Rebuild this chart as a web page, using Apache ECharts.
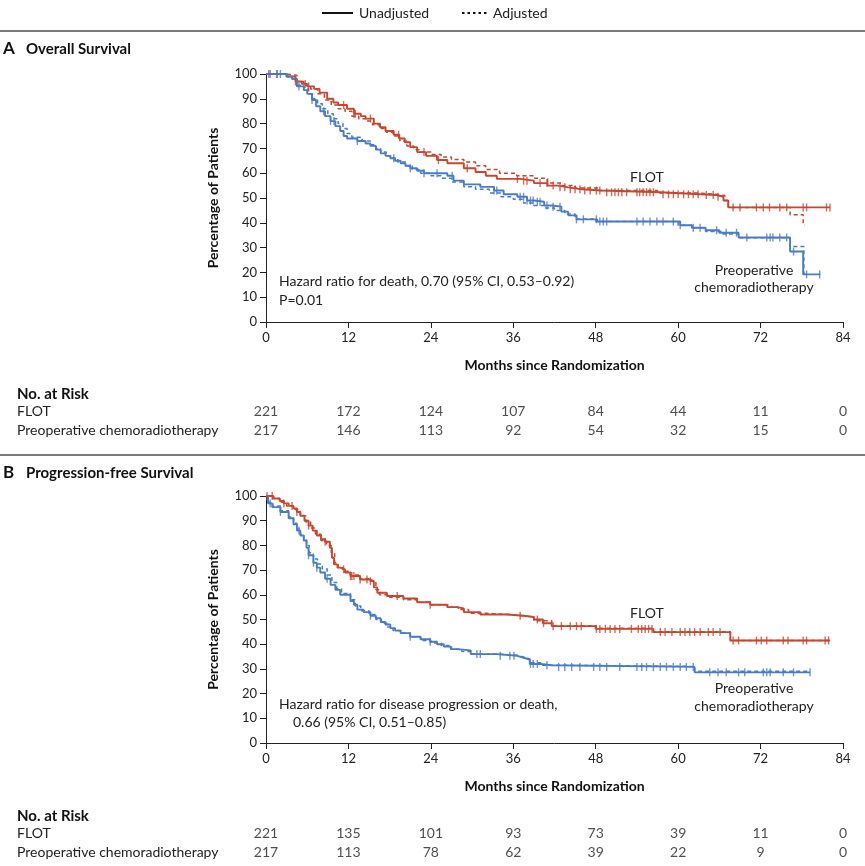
<!DOCTYPE html>
<html>
<head>
<meta charset="utf-8">
<script src="https://cdn.jsdelivr.net/npm/echarts@6.0.0/dist/echarts.min.js"></script>
<style>
html, body { margin: 0; padding: 0; background: #fff; }
#container { width: 865px; height: 866px; }
</style>
</head>
<body>
<div id="container"></div>
<script>
// ---- data: [month, percent] steps of each curve ----
let osFlot = [[0,100],[3,99],[4.3,97],[5.2,96],[6,95],[7,94],[7.8,92.5],[8.9,90],[9.8,88.5],[10.5,87.5],
  [11.8,86],[12.8,84],[13.8,83],[14.5,82],[15.7,80],[16.6,78.5],[17.4,77],[18.6,75.5],[19.4,74],[20.2,72.5],
  [21,70.5],[22,68.5],[23.3,67],[24.9,65.3],[26.4,64],[28.8,62],[30.5,60.5],[32,59],[33.6,57.7],[37,57],
  [39,56],[41,55],[42.5,54.3],[44,53.5],[46,53],[48.8,52.3],[57.4,51.5],[63.2,51.2],[65.6,50.5],[66.6,49],
  [67.3,46.2],[82.1,46.2]];
let osFlotAdj = [[0,100],[3,99.5],[4.5,97],[5.5,95.5],[6.5,94],[7.5,92],[8.5,89.5],[9.5,87.5],[10.5,86],[11.5,85],
  [12.5,83],[13.5,82],[14.5,81],[15.5,79.5],[16.5,78],[17.5,76.5],[18.5,75],[19.5,73],[20.5,71],[21.5,69.5],
  [22.5,68.5],[24,67.5],[25.5,66.5],[27,65.5],[28.8,64.5],[30.5,63],[32,61.5],[34,60],[36.5,59],[39,58],
  [41,56],[43,55],[45,54],[48.5,53],[57,52],[63,51.5],[65.5,51],[66.8,49],[67.3,46.2],[76.3,43.2],
  [78.2,39],[78.4,39]];
let osPreop = [[0,100],[3,99],[3.8,98],[4.5,95],[5.5,93.5],[6,92],[6.7,89.5],[7.3,87],[7.9,85],[8.6,83],
  [9.4,81],[10.1,79],[10.8,77],[11.3,75],[11.8,74],[13.3,73],[14.5,72],[15.2,71],[16,69.5],[16.7,68],
  [17.4,67],[18.1,66],[18.8,65],[19.6,64],[20.3,63],[21,62],[22,61],[23,60],[26.4,59],[27.3,57],
  [28.8,55.5],[31.2,54.5],[33.2,53],[34.6,51.5],[36.6,50.5],[38,49],[39,48.5],[40.5,47],[41.6,46.5],[43,44.5],
  [44,43],[45.2,41.4],[48.2,40.5],[60.3,39],[62,38],[64,37],[66,36],[68.8,34.1],[76.3,28.4],[78.2,19.2],
  [80.7,19.2]];
let osPreopAdj = [[0,100],[3,99],[3.8,98],[4.5,95.5],[5.5,94],[6.2,92],[6.8,90],[7.5,88],[8.2,86],[9,84],
  [9.8,82],[10.5,80],[11.2,78],[11.8,76],[12.5,74.5],[14,73],[15.2,71.5],[16,70],[16.7,68.5],[17.5,67],
  [18.3,66],[19.2,64.5],[20.3,63],[21.3,61.5],[22.5,60],[24,59],[25.5,58],[27,56.5],[28.8,54.5],[30.5,53.5],
  [32.5,52],[34.2,50.5],[36,49.5],[37.5,48],[39,47],[40.5,46],[42,45],[43.5,43.5],[45,41.5],[48,40.5],
  [60,39],[62,38],[64,36.5],[66.5,35.5],[68.8,34],[76.3,30.4],[78.3,19.5],[78.5,19.5]];

let pfsFlot = [[0,100],[1.1,99],[2,98],[2.6,97],[3.3,96],[4,95],[4.5,93.5],[5,92],[5.6,90],[6.2,88],
  [6.8,86],[7.4,84],[8,82.5],[8.6,81.5],[9.3,79],[9.6,75],[9.9,72.3],[10.4,71],[10.8,70.3],[11.5,69],
  [12.3,67.6],[13.7,66.2],[15.2,65.5],[15.7,63],[16.2,60.8],[17.6,59.5],[20,58.5],[22,57],[23.9,56],[26.4,55],
  [27.8,54.5],[28.8,53],[31.2,52],[35.1,51.5],[37.5,51],[39,50],[40.3,48.5],[41.6,47.3],[48,46.2],[56.4,44.9],
  [67.6,41.5],[82.1,41.5]];
let pfsFlotAdj = [[0,100],[1,99],[2,97.5],[3,96],[4,94.5],[5,92],[5.8,89.5],[6.5,87],[7.2,84.5],[8,82],
  [8.8,80],[9.5,77],[10,73],[10.5,71],[11.2,69.5],[12.3,68],[13.7,66.5],[15.2,65.5],[16,62],[16.5,60],
  [18,59],[20,58],[22,57],[24,56],[26.5,55],[28,54],[29.5,52.5],[32,52],[35.5,51.5],[37.5,51],
  [39,49.5],[41.6,47.5],[48,46.5],[56.4,45],[67.6,41.5],[82.1,41.5]];
let pfsPreop = [[0,100],[0.3,97],[0.9,95.5],[2.1,93.5],[3.3,91],[4,88.5],[4.5,86],[5,84],[5.5,82],[5.9,79],
  [6.2,76],[6.9,73],[7.4,71],[7.9,69],[8.6,66.5],[9.4,64],[10.1,62],[10.8,60],[12.3,57.5],[12.8,56],
  [13.3,54],[14.2,53],[15.2,51.5],[16,50.5],[16.7,49],[17.4,48],[18.1,46.5],[18.8,45.5],[19.6,44.5],[21,43],
  [22.5,42],[23.9,41],[24.9,40],[25.9,39],[26.9,38],[27.8,37.5],[29.8,36],[33.6,35.3],[36.6,34.5],[37.5,33.8],
  [38.4,32],[40,31.5],[41.6,30.8],[62.4,28.6],[79.2,28.6]];
let pfsPreopAdj = [[0,100],[0.3,97.5],[1,96],[2.1,94],[3.3,91.5],[4,89],[4.5,86.5],[5,84.5],[5.5,82.5],[5.9,80],
  [6.3,77],[6.9,74.5],[7.5,72.5],[8.2,70.5],[8.9,68],[9.6,65],[10.3,62.5],[11,60.5],[12.3,58],[13,55.5],
  [13.8,53.5],[15,52],[16,50],[16.8,48.5],[17.6,47],[18.5,45.5],[19.6,44.5],[21,43],[22.5,41.5],[24,40.5],
  [25.5,39.5],[27,38],[28.5,37],[30,36],[33.6,35.5],[36.6,34.8],[37.5,34],[38.4,32.5],[40,31.5],[41.6,31],
  [62.4,29],[79.2,29]];

// censoring times (months)
let osFlotCens = [0.6,1.6,4.3,5.7,6.2,11.3,12.8,13,15.2,19.3,23,25.1,29.3,36.6,37.5,38,39.9,40.9,41.8,42.8,
  43.5,44.3,45,45.7,46.4,47.2,48.1,48.6,49.6,50.3,50.8,51.3,51.8,52.5,54,54.4,54.9,55.4,55.9,56.4,57.8,58.6,
  59.3,60,60.8,61.5,62.2,62.9,64.1,65.1,65.8,68,69,71.4,72.4,73.3,74.8,75.8,78.2,78.7,81.6,82.1];
let osPreopCens = [0.4,1.6,2.1,4.8,6.7,8.4,9.4,9.9,13.3,18.6,21,23,24.9,27.1,33.2,33.6,37,37.5,38,38.5,38.9,
  39.5,39.9,40.9,41.8,42.8,45.2,46.2,48.1,48.6,49.1,49.6,54,54.9,55.9,56.9,57.8,59.3,60.3,62.2,63.2,65.6,67,
  68.5,70,72.9,73.4,73.8,74.8,75.8,76.8,78.7,80.6];
let pfsFlotCens = [0.15,0.9,2.6,3.8,4.5,6.2,8.6,11.3,12.3,12.5,12.8,13.7,14.7,15.2,19.1,23.9,37,39.5,40.4,41.8,
  43,44.3,45.2,45.9,48.1,48.6,49.4,50.1,50.8,51.5,53.2,54.2,54.7,55.2,55.7,56.2,57.4,58.1,59.1,60.3,61,61.7,
  62.4,63.2,64.4,65.1,66.1,68,68.8,71.4,72.1,72.9,75.3,76,78.2,78.7,81.4,81.9];
let pfsPreopCens = [0.6,2.1,4.8,6.2,6.9,7.4,8.9,15.2,21,23.9,30.7,31.2,34.1,35.5,36.1,38.5,38.9,39.5,40.9,42.6,
  43.5,44.5,45.7,47.7,48.6,49.6,51.5,54,54.7,55.4,56.4,57.4,58.3,59.3,60.3,61.2,62.2,64.6,65.8,67,68.8,69.7,
  72.4,72.9,73.4,75.3,76.8,79.2];

// number at risk
let riskMonths = [0, 12, 24, 36, 48, 60, 72, 84];
let osRiskFlot = [221, 172, 124, 107, 84, 44, 11, 0];
let osRiskPreop = [217, 146, 113, 92, 54, 32, 15, 0];
let pfsRiskFlot = [221, 135, 101, 93, 73, 39, 11, 0];
let pfsRiskPreop = [217, 113, 78, 62, 39, 22, 9, 0];
let groups = ['FLOT', 'Preoperative chemoradiotherapy'];

const RED = '#c8462f';
const BLUE = '#4a7cc6';
const FONT = 'Lato';

function stepAt(curve, t) {
    let v = curve[0][1];
    for (let i = 0; i < curve.length; i++) {
        if (curve[i][0] <= t) v = curve[i][1];
    }
    return v;
}

function kmLine(data, color, dashed, idx) {
    return {
        type: 'line', step: 'end', data: data, xAxisIndex: idx, yAxisIndex: idx,
        showSymbol: false, symbol: 'none', silent: true, z: dashed ? 3 : 4,
        lineStyle: { color: color, width: dashed ? 1.5 : 1.9, type: dashed ? [4, 3] : 'solid' }
    };
}

function censMarks(times, curve, color, idx) {
    return {
        type: 'scatter', xAxisIndex: idx, yAxisIndex: idx, silent: true, z: 5,
        symbol: 'rect', symbolSize: [1.4, 8],
        itemStyle: { color: color },
        data: times.map(t => [t, stepAt(curve, t)])
    };
}

function riskSeries(values, group, idx) {
    return {
        type: 'scatter', xAxisIndex: idx, yAxisIndex: idx, silent: true,
        symbolSize: 1, itemStyle: { color: 'rgba(0,0,0,0)' },
        label: { show: true, position: 'inside', color: '#222', fontFamily: FONT, fontSize: 14,
            formatter: p => String(p.value[2]) },
        data: riskMonths.map((m, i) => [m, group, values[i]])
    };
}

function plotX(idx) {
    return {
        gridIndex: idx, type: 'value', min: 0, max: 84, interval: 12,
        name: 'Months since Randomization', nameLocation: 'middle', nameGap: 36,
        nameTextStyle: { fontFamily: FONT, fontWeight: 'bold', fontSize: 14, color: '#111' },
        axisLine: { lineStyle: { color: '#222', width: 1 } },
        axisTick: { length: 6, lineStyle: { color: '#222' } },
        axisLabel: { margin: 9, fontFamily: FONT, fontSize: 13, color: '#222' },
        splitLine: { show: false }
    };
}

function plotY(idx) {
    return {
        gridIndex: idx, type: 'value', min: 0, max: 100, interval: 10,
        name: 'Percentage of Patients', nameLocation: 'middle', nameGap: 46,
        nameTextStyle: { fontFamily: FONT, fontWeight: 'bold', fontSize: 14, color: '#111' },
        axisLine: { show: true, lineStyle: { color: '#222', width: 1 } },
        axisTick: { show: true, length: 6, lineStyle: { color: '#222' } },
        axisLabel: { margin: 9, fontFamily: FONT, fontSize: 13, color: '#222' },
        splitLine: { show: false }
    };
}

function riskX(idx) {
    return { gridIndex: idx, type: 'value', min: 0, max: 84, show: false };
}

function riskY(idx) {
    return {
        gridIndex: idx, type: 'category', data: groups, inverse: true,
        axisLine: { show: false }, axisTick: { show: false },
        axisLabel: { align: 'left', margin: 249, fontFamily: FONT, fontSize: 14, color: '#222' }
    };
}

function txt(x, y, text, extra) {
    return { type: 'text', x: x, y: y, silent: true,
        style: Object.assign({ text: text, fontFamily: FONT, fontSize: 14, fill: '#222',
            verticalAlign: 'middle' }, extra || {}) };
}

let dom = document.getElementById('container');
let myChart = echarts.init(dom, null, { renderer: 'canvas' });

let option = {
    animation: false,
    backgroundColor: '#fff',
    grid: [
        { left: 266, top: 74, width: 577, height: 248 },
        { left: 266, top: 496, width: 577, height: 247 },
        { left: 266, top: 402, width: 577, height: 38 },
        { left: 266, top: 824, width: 577, height: 38 }
    ],
    xAxis: [plotX(0), plotX(1), riskX(2), riskX(3)],
    yAxis: [plotY(0), plotY(1), riskY(2), riskY(3)],
    series: [
        kmLine(osFlotAdj, RED, true, 0),
        kmLine(osPreopAdj, BLUE, true, 0),
        kmLine(osFlot, RED, false, 0),
        kmLine(osPreop, BLUE, false, 0),
        censMarks(osFlotCens, osFlot, RED, 0),
        censMarks(osPreopCens, osPreop, BLUE, 0),
        kmLine(pfsFlotAdj, RED, true, 1),
        kmLine(pfsPreopAdj, BLUE, true, 1),
        kmLine(pfsFlot, RED, false, 1),
        kmLine(pfsPreop, BLUE, false, 1),
        censMarks(pfsFlotCens, pfsFlot, RED, 1),
        censMarks(pfsPreopCens, pfsPreop, BLUE, 1),
        riskSeries(osRiskFlot, groups[0], 2),
        riskSeries(osRiskPreop, groups[1], 2),
        riskSeries(pfsRiskFlot, groups[0], 3),
        riskSeries(pfsRiskPreop, groups[1], 3)
    ],
    graphic: [
        // legend
        { type: 'line', shape: { x1: 322, y1: 13, x2: 353, y2: 13 }, style: { stroke: '#111', lineWidth: 2 } },
        txt(359, 13, 'Unadjusted'),
        { type: 'line', shape: { x1: 462, y1: 13, x2: 488, y2: 13 }, style: { stroke: '#111', lineWidth: 2, lineDash: [2.5, 3] } },
        txt(493, 13, 'Adjusted'),
        // separators
        { type: 'rect', shape: { x: 0, y: 30, width: 865, height: 2 }, style: { fill: '#7a7a7a' } },
        { type: 'rect', shape: { x: 0, y: 454, width: 865, height: 2 }, style: { fill: '#7a7a7a' } },
        // panel titles
        txt(3, 49, 'A', { fontWeight: 'bold', fontSize: 17, fill: '#111' }),
        txt(26, 49, 'Overall Survival', { fontWeight: 'bold', fontSize: 15, fill: '#111' }),
        txt(3, 473, 'B', { fontWeight: 'bold', fontSize: 17, fill: '#111' }),
        txt(26, 473, 'Progression-free Survival', { fontWeight: 'bold', fontSize: 15, fill: '#111' }),
        // annotations panel A
        txt(279, 281, 'Hazard ratio for death, 0.70 (95% CI, 0.53\u20130.92)'),
        txt(279, 300, 'P=0.01'),
        txt(630, 177, 'FLOT'),
        txt(754, 270, 'Preoperative', { align: 'center' }),
        txt(754, 287, 'chemoradiotherapy', { align: 'center' }),
        // annotations panel B
        txt(279, 704, 'Hazard ratio for disease progression or death,'),
        txt(293, 722, '0.66 (95% CI, 0.51\u20130.85)'),
        txt(630, 613, 'FLOT'),
        txt(754, 688, 'Preoperative', { align: 'center' }),
        txt(754, 706, 'chemoradiotherapy', { align: 'center' }),
        // risk table headers
        txt(17, 394, 'No. at Risk', { fontWeight: 'bold', fontSize: 15, fill: '#111' }),
        txt(17, 816, 'No. at Risk', { fontWeight: 'bold', fontSize: 15, fill: '#111' })
    ]
};

if (option && typeof option === 'object') {
    myChart.setOption(option, true);
}
</script>
</body>
</html>
